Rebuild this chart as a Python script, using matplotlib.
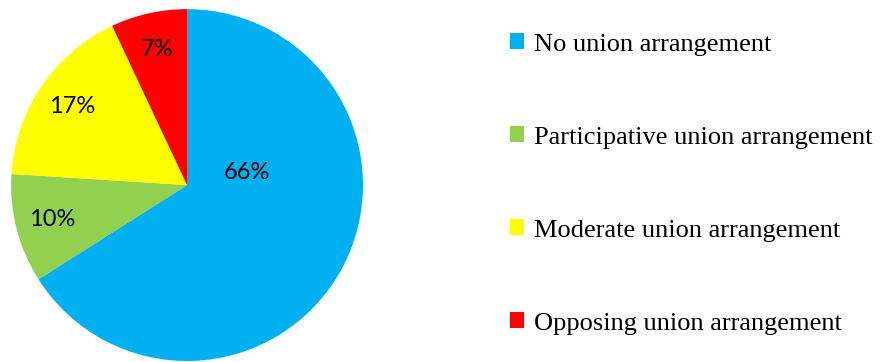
import matplotlib.pyplot as plt
from matplotlib.patches import Patch

# union arrangement shares (%)
categories = ['No union arrangement', 'Participative union arrangement',
              'Moderate union arrangement', 'Opposing union arrangement']
shares = [66, 10, 17, 7]
colors = ['#00B0F0', '#92D050', '#FFFF00', '#FF0000']

fig = plt.figure(figsize=(8.9, 3.62), dpi=100)
ax = fig.add_axes([0.0124, 0.0028, 0.3955, 0.972])

wedges, texts, autotexts = ax.pie(shares, colors=colors, startangle=90, counterclock=False,
                                  autopct='%d%%', pctdistance=0.79,
                                  textprops=dict(fontsize=17, family='Lato', color='black'))
# big slice label sits nearer the centre
autotexts[0].set_position((0.34, 0.07))
ax.set_xlim(-1, 1)
ax.set_ylim(-1, 1)
ax.set_aspect('equal')

handles = [Patch(facecolor=c, edgecolor='none') for c in colors]
fig.legend(handles, categories, loc='upper left', bbox_to_anchor=(0.561, 0.937),
           frameon=False, handlelength=0.55, handleheight=0.55, handletextpad=0.35,
           labelspacing=2.68, borderaxespad=0,
           prop=dict(family='Liberation Serif', size=19))

fig.savefig('out.png', dpi=100)
